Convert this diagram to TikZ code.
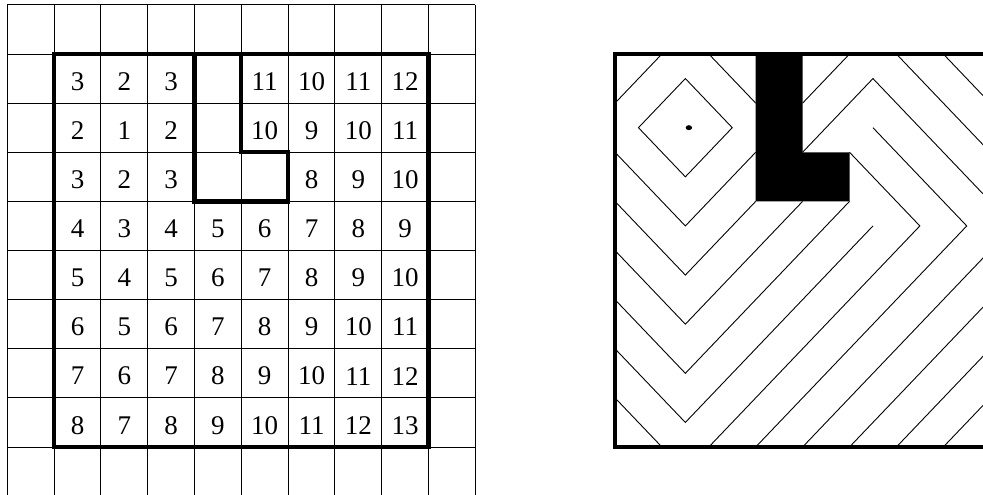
\documentclass[tikz,border=0pt]{standalone}
\usepackage{fontspec}
\setmainfont{Liberation Serif}
\begin{document}
\begin{tikzpicture}[x=1pt,y=-1pt,
  gridline/.style={line width=0.9pt},
  boldline/.style={line width=4.3pt, line join=miter},
  contour/.style={line width=0.9pt},
  num/.style={font=\fontsize{27pt}{27pt}\selectfont, inner sep=0pt, yshift=-2.8pt}]
\useasboundingbox (0,0) rectangle (983,495);
\clip (0,0) rectangle (983,495);
% ---------- left grid ----------
\begin{scope}[xshift=7.3pt, yshift=-4.9pt, x=46.8pt, y=-49.125pt]
  \foreach \i in {0,...,10} \draw[gridline] (\i,0) -- (\i,10.3);
  \foreach \j in {0,...,9} \draw[gridline] (0,\j) -- (10,\j);
  \foreach \row [count=\r] in {
      {3,2,3,0,11,10,11,12},
      {2,1,2,0,10,9,10,11},
      {3,2,3,0,0,8,9,10},
      {4,3,4,5,6,7,8,9},
      {5,4,5,6,7,8,9,10},
      {6,5,6,7,8,9,10,11},
      {7,6,7,8,9,10,11,12},
      {8,7,8,9,10,11,12,13}} {
    \foreach \v [count=\c] in \row {
      \ifnum\v=0\relax\else
        \node[num] (n-\r-\c) at (\c+0.5,\r+0.5) {\v};
      \fi
    }
  }
  \draw[boldline] (1,1) rectangle (9,9);
  \draw[boldline] (4,1) -- (4,4) -- (6,4) -- (6,3) -- (5,3) -- (5,1);
\end{scope}
% ---------- right contour picture ----------
\begin{scope}[xshift=615pt, yshift=-54pt, x=46.9pt, y=-49.125pt]
  \fill (3,0) -- (3,3) -- (5,3) -- (5,2) -- (4,2) -- (4,0) -- cycle;
  % d = 1
  \draw[contour] (1.5,0.5) -- (2.5,1.5) -- (1.5,2.5) -- (0.5,1.5) -- cycle;
  % d = 2
  \draw[contour] (0,1) -- (1,0);
  \draw[contour] (2,0) -- (3,1);
  \draw[contour] (0,2) -- (1.5,3.5) -- (3,2);
  % d = 3 .. 6
  \draw[contour] (0,3) -- (1.5,4.5) -- (3,3);
  \draw[contour] (0,4) -- (1.5,5.5) -- (4,3);
  \draw[contour] (0,5) -- (1.5,6.5) -- (5,3);
  \draw[contour] (0,6) -- (1.5,7.5) -- (5.5,3.5);
  % d = 7
  \draw[contour] (0,7) -- (1,8);
  \draw[contour] (2,8) -- (6.5,3.5) -- (5,2);
  % d = 8
  \draw[contour] (3,8) -- (7.5,3.5) -- (5.5,1.5);
  % d = 9
  \draw[contour] (4,8) -- (8,4);
  \draw[contour] (4,2) -- (5.5,0.5) -- (8,3);
  % d = 10
  \draw[contour] (5,8) -- (8,5);
  \draw[contour] (4,1) -- (5,0);
  \draw[contour] (6,0) -- (8,2);
  % d = 11, 12
  \draw[contour] (6,8) -- (8,6);
  \draw[contour] (7,0) -- (8,1);
  \draw[contour] (7,8) -- (8,7);
  % goal dot
  \fill (1.575,1.5) ellipse [x radius=3.2pt, y radius=2.5pt];
  % border
  \draw[boldline] (0,0) rectangle (8,8);
\end{scope}
\end{tikzpicture}
\end{document}
